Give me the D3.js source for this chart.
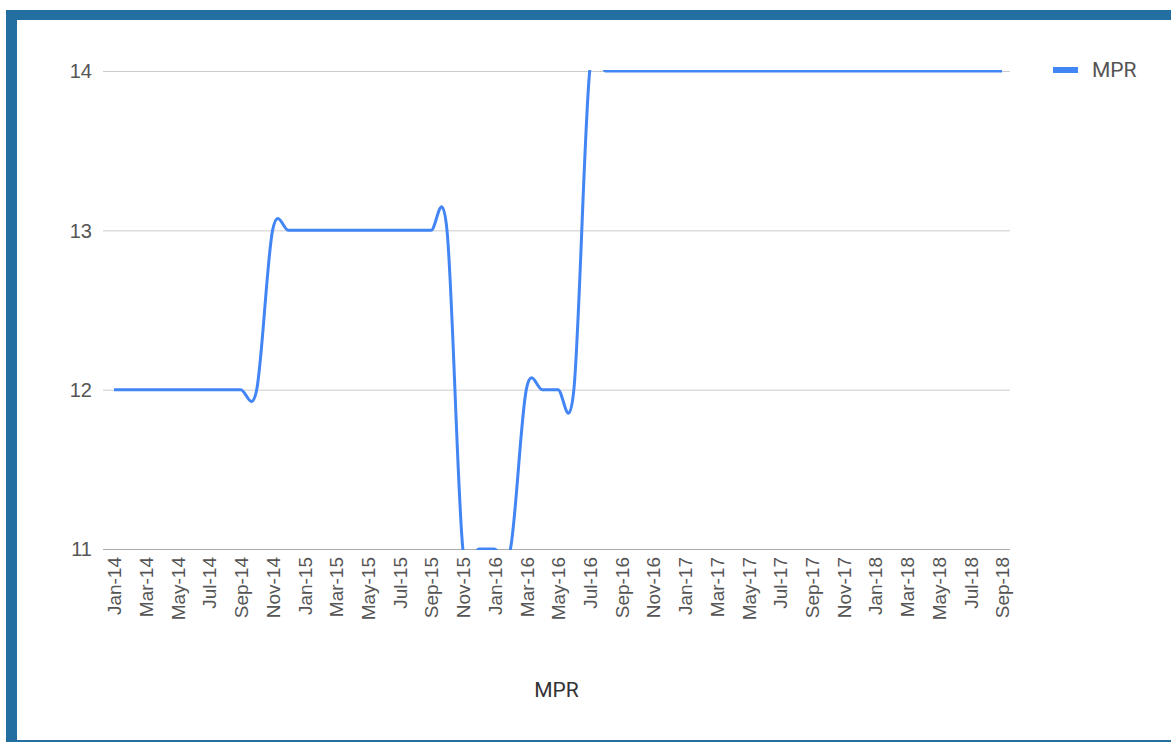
<!DOCTYPE html>
<html>
<head>
<meta charset="utf-8">
<script src="https://cdn.jsdelivr.net/npm/d3@7"></script>
<style>
    body { margin: 0; background: #fff; }
    svg { display: block; font-family: Roboto, Arial, sans-serif; }
</style>
</head>
<body>
<div class="chart"></div>
<script>
(function () {
    'use strict';

    // monthly categories, Jan-14 .. Sep-18
    const months = [
        'Jan-14', 'Feb-14', 'Mar-14', 'Apr-14', 'May-14', 'Jun-14', 'Jul-14', 'Aug-14', 'Sep-14', 'Oct-14', 'Nov-14', 'Dec-14',
        'Jan-15', 'Feb-15', 'Mar-15', 'Apr-15', 'May-15', 'Jun-15', 'Jul-15', 'Aug-15', 'Sep-15', 'Oct-15', 'Nov-15', 'Dec-15',
        'Jan-16', 'Feb-16', 'Mar-16', 'Apr-16', 'May-16', 'Jun-16', 'Jul-16', 'Aug-16', 'Sep-16', 'Oct-16', 'Nov-16', 'Dec-16',
        'Jan-17', 'Feb-17', 'Mar-17', 'Apr-17', 'May-17', 'Jun-17', 'Jul-17', 'Aug-17', 'Sep-17', 'Oct-17', 'Nov-17', 'Dec-17',
        'Jan-18', 'Feb-18', 'Mar-18', 'Apr-18', 'May-18', 'Jun-18', 'Jul-18', 'Aug-18', 'Sep-18'
    ];

    const mpr = [
        12, 12, 12, 12, 12, 12, 12, 12, 12, 12, 13, 13,
        13, 13, 13, 13, 13, 13, 13, 13, 13, 13, 11, 11,
        11, 11, 12, 12, 12, 12, 14, 14, 14, 14, 14, 14,
        14, 14, 14, 14, 14, 14, 14, 14, 14, 14, 14, 14,
        14, 14, 14, 14, 14, 14, 14, 14, 14
    ];

    const xTickLabels = months.filter(function (m, i) { return i % 2 === 0; });
    const yTicks = [11, 12, 13, 14];
    const seriesName = 'MPR';
    const axisTitle = 'MPR';

    const W = 1171, H = 742;
    const plot = { left: 103, right: 1010, top: 71, bottom: 549 };
    const lineColor = '#4285f4';
    const frameColor = '#236fa1';

    const svg = d3.select('.chart').append('svg').attr('width', W).attr('height', H);

    svg.append('rect').attr('width', W).attr('height', H).attr('fill', '#fff');

    // blue frame (top, left, bottom; right side is cut off)
    svg.append('rect').attr('x', 6).attr('y', 10).attr('width', W - 6).attr('height', 10).attr('fill', frameColor);
    svg.append('rect').attr('x', 6).attr('y', 10).attr('width', 11).attr('height', H - 10).attr('fill', frameColor);
    svg.append('rect').attr('x', 6).attr('y', 740).attr('width', W - 6).attr('height', 2).attr('fill', frameColor);

    const x = d3.scalePoint().domain(months).range([114, 1002]);
    const y = d3.scaleLinear().domain([11, 14]).range([plot.bottom, plot.top]);

    // gridlines + y labels
    const yAxis = d3.axisLeft(y).tickValues(yTicks).tickFormat(d3.format('d'))
        .tickSize(-(plot.right - plot.left)).tickPadding(11);
    svg.append('g').attr('class', 'y-axis').attr('transform', 'translate(' + plot.left + ',0)').call(yAxis)
        .call(function (g) {
            g.select('.domain').remove();
            g.selectAll('line').attr('stroke', function (d) { return d === 11 ? '#aaa' : '#ccc'; });
            g.selectAll('text').attr('fill', '#555').style('font-size', '20px').attr('dy', '0.34em');
        });

    // x labels
    const xAxis = d3.axisBottom(x).tickValues(xTickLabels).tickSize(0);
    svg.append('g').attr('class', 'x-axis').attr('transform', 'translate(0,' + plot.bottom + ')').call(xAxis)
        .call(function (g) {
            g.select('.domain').remove();
            g.selectAll('text')
                .attr('fill', '#555')
                .style('font-size', '19px')
                .attr('text-anchor', 'end')
                .attr('transform', 'rotate(-90)')
                .attr('x', -8)
                .attr('y', 0)
                .attr('dy', '0.36em');
        });

    svg.append('defs').append('clipPath').attr('id', 'plot-clip')
        .append('rect')
        .attr('x', plot.left).attr('y', plot.top - 1)
        .attr('width', plot.right - plot.left).attr('height', plot.bottom - plot.top + 2);

    const line = d3.line()
        .x(function (d, i) { return x(months[i]); })
        .y(function (d) { return y(d); })
        .curve(d3.curveCardinal.tension(0));

    svg.append('path')
        .datum(mpr)
        .attr('clip-path', 'url(#plot-clip)')
        .attr('fill', 'none')
        .attr('stroke', lineColor)
        .attr('stroke-width', 3)
        .attr('stroke-linejoin', 'round')
        .attr('d', line);

    // axis title
    svg.append('text').text(axisTitle)
        .attr('x', (plot.left + plot.right) / 2).attr('y', 697)
        .attr('text-anchor', 'middle').attr('fill', '#333').style('font-size', '21px');

    // legend
    const legend = svg.append('g').attr('class', 'legend');
    legend.append('rect').attr('x', 1053).attr('y', 67).attr('width', 25).attr('height', 6).attr('fill', lineColor);
    legend.append('text').text(seriesName).attr('x', 1092).attr('y', 70).attr('dy', '0.35em')
        .attr('fill', '#555').style('font-size', '21px');
}());
</script>
</body>
</html>
